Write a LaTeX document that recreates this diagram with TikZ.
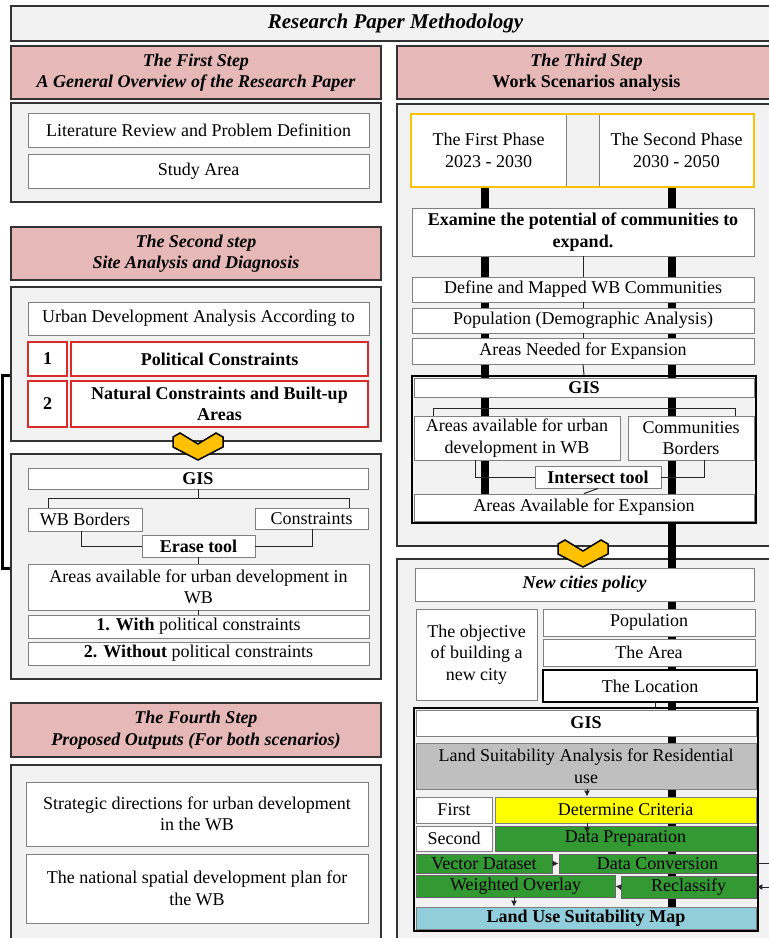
\documentclass[tikz,border=0pt]{standalone}
\usepackage{fontspec}
\setmainfont{Liberation Serif}
\usetikzlibrary{fit,arrows.meta}

\definecolor{panelgray}{HTML}{F2F2F2}
\definecolor{headpink}{HTML}{E6B8B7}
\definecolor{phaseyellow}{HTML}{FFC000}
\definecolor{crityellow}{HTML}{FFFF00}
\definecolor{prepgreen}{HTML}{339933}
\definecolor{mapblue}{HTML}{92CDDC}
\definecolor{lsgray}{HTML}{BFBFBF}
\definecolor{cellred}{HTML}{D92B2B}

\newcommand{\bodyfont}{\fontsize{18}{21.5}\selectfont}

\pgfdeclarelayer{back}
\pgfdeclarelayer{bars}
\pgfsetlayers{back,bars,main}

\tikzset{
	corners/.style n args={4}{at={({(#1+#3)/2},{(#2+#4)/2})}, minimum width={(#3-#1)*1pt}, minimum height={(#4-#2)*1pt}},
	stepbody/.style={draw=black!80, line width=1.5pt, fill=panelgray, inner sep=0pt},
	stephead/.style={draw=black!80, line width=1.5pt, fill=headpink, inner sep=0pt, align=center, font=\bodyfont\bfseries\itshape},
	cell/.style={draw=black!50, line width=0.8pt, fill=white, inner sep=0pt, align=center},
	boldcell/.style={cell, font=\bodyfont\bfseries},
	redcell/.style={cell, draw=cellred, line width=1.2pt, font=\bodyfont\bfseries},
	greencell/.style={cell, fill=prepgreen, draw=black!60},
	gisframe/.style={draw=black, line width=2.5pt, fill=panelgray, inner sep=0pt},
	link/.style={draw=black!85, line width=1pt},
	arr/.style={link, -{Latex[length=6pt,width=6pt]}},
	bar/.style={line width=8pt, black},
	bracket/.style={line width=3pt, black},
	chevron/.pic={
		\filldraw[fill=phaseyellow, draw=black, line width=1.5pt]
			(-25,4) -- (-18,0) -- (0,11) -- (18,0) -- (25,4) -- (25,14) -- (0,27) -- (-25,14) -- cycle;
	}
}

\begin{document}
\begin{tikzpicture}[x=1pt,y=-1pt,font=\bodyfont]
	\pgfmathsetmacro{\lbarx}{485}
	\pgfmathsetmacro{\rbarx}{672}
	\useasboundingbox (0,0) rectangle (769,938);

	% panels
	\begin{pgfonlayer}{back}
		\node (body1) [stepbody, corners={11}{103}{381}{202}] {};
		\node (body2) [stepbody, corners={11}{287}{381}{441}] {};
		\node (body3) [stepbody, corners={11}{454}{381}{679}] {};
		\node (body4) [stepbody, corners={11}{765}{381}{950}] {};
		\node (body5) [stepbody, corners={397}{104}{776}{546}] {};
		\node (body6) [stepbody, corners={397}{559}{776}{950}] {};
		\node (gisrframe) [gisframe, corners={412}{376}{756}{523}] {};
		\node (gis2frame) [gisframe, corners={414}{708}{758}{931}] {};
	\end{pgfonlayer}

	\node (title) [stepbody, corners={11}{6}{780}{41}, font=\fontsize{21}{24}\selectfont\bfseries\itshape] {Research Paper Methodology};
	\node (head1) [stephead, corners={11}{46}{381}{99}] {The First Step\\A General Overview of the Research Paper};
	\node (head2) [stephead, corners={11}{227}{381}{280}] {The Second step\\Site Analysis and Diagnosis};
	\node (head3) [stephead, corners={397}{46}{776}{99}] {The Third Step\\\upshape Work Scenarios analysis};
	\node (head4) [stephead, corners={11}{703}{381}{757}] {The Fourth Step\\Proposed Outputs (For both scenarios)};

	% first step
	\node (lit) [cell, corners={28}{113}{369}{147}] {Literature Review and Problem Definition};
	\node (study) [cell, corners={28}{154}{369}{188}] {Study Area};

	% second step
	\node (urban) [cell, corners={28}{302}{369}{335}] {Urban Development Analysis According to};
	\node (n1) [redcell, corners={28}{342}{67}{376}] {1};
	\node (pol) [redcell, corners={71}{342}{368}{376}] {Political Constraints};
	\node (n2) [redcell, corners={28}{381}{67}{427}] {2};
	\node (nat) [redcell, corners={71}{381}{368}{427}] {Natural Constraints and Built-up\\Areas};

	\node (gisl) [boldcell, corners={28}{468}{368}{489}] {GIS};
	\node (wbb) [cell, corners={28}{508}{142}{531}] {WB Borders};
	\node (cons) [cell, corners={255}{508}{368}{529}] {Constraints};
	\node (erase) [boldcell, corners={142}{535}{255}{557}] {Erase tool};
	\node (avl) [cell, corners={28}{564}{369}{610}] {Areas available for urban development in\\WB};
	\node (with) [cell, corners={28}{615}{369}{638}] {\textbf{1. With} political constraints};
	\node (without) [cell, corners={28}{642}{369}{665}] {\textbf{2. Without} political constraints};

	\draw[link] (gisl.south) -- ++(0,10);
	\draw[link] (wbb.north -| 48,0) -- ++(0,-9) -| (cons.north -| 349,0);
	\draw[link] (wbb.south -| 81,0) |- (erase.west);
	\draw[link] (cons.south -| 312,0) |- (erase.east);
	\draw[link] (erase.south) -- (avl.north);
	\draw[link] (avl.south) -- (with.north);

	\draw[bracket] (body2.west |- 0,375) -- ++(-8,0) |- (body3.west |- 0,568);
	\pic at (198,433) {chevron};

	% fourth step
	\node (strat) [cell, corners={26}{782}{368}{846}] {Strategic directions for urban development\\in the WB};
	\node (natl) [cell, corners={26}{854}{368}{923}] {The national spatial development plan for\\the WB};

	% third step
	\node (ph1) [cell, corners={411}{114}{566}{187}] {The First Phase\\2023 - 2030};
	\node (ph2) [cell, corners={599}{114}{754}{187}] {The Second Phase\\2030 - 2050};
	\node (phases) [draw=phaseyellow, line width=2pt, inner sep=0pt, fit=(ph1)(ph2)] {};

	\node (exam) [boldcell, corners={412}{208}{754}{256}] {Examine the potential of communities to\\expand.};
	\node (defn) [cell, corners={412}{277}{754}{302}] {Define and Mapped WB Communities};
	\node (popd) [cell, corners={412}{308}{754}{333}] {Population (Demographic Analysis)};
	\node (need) [cell, corners={412}{338}{754}{364}] {Areas Needed for Expansion};

	\node (gisr) [boldcell, corners={414}{378}{754}{397}] {GIS};
	\node (aud) [cell, corners={414}{416}{620}{460}] {Areas available for urban\\development in WB};
	\node (cb) [cell, corners={628}{416}{754}{460}] {Communities\\Borders};
	\node (inter) [boldcell, corners={535}{466}{661}{488}] {Intersect tool};
	\node (expand) [cell, corners={414}{494}{754}{521}] {Areas Available for Expansion};

	\draw[link] (exam.south) -- (defn.north);
	\draw[link] (defn.south) -- (popd.north);
	\draw[link] (popd.south) -- (need.north);
	\draw[link] (need.south) -- (gisrframe.north);
	\draw[link] (aud.north -| 433,0) -- ++(0,-7) -| (cb.north -| 735,0);
	\draw[link] (aud.south -| 475,0) |- (inter.west);
	\draw[link] (cb.south -| 704,0) |- (inter.east);
	\draw[link] (inter.south) -- (expand.north);

	\pic at (583,540) {chevron};

	% new cities
	\node (policy) [cell, corners={415}{568}{754}{601}, font=\bodyfont\bfseries\itshape] {New cities policy};
	\node (obj) [cell, corners={416}{609}{537}{700}] {The objective\\of building a\\new city};
	\node (popn) [cell, corners={543}{609}{755}{636}] {Population};
	\node (area) [cell, corners={543}{639}{755}{666}] {The Area};
	\node (loc) [cell, draw=black, line width=2.5pt, corners={543}{670}{757}{702}] {The Location};

	\node (gis2) [boldcell, corners={416}{710}{756}{736}] {GIS};
	\node (ls) [cell, fill=lsgray, corners={416}{743}{756}{789}] {Land Suitability Analysis for Residential\\use};
	\node (first) [cell, corners={416}{797}{492}{823}] {First};
	\node (crit) [cell, fill=crityellow, corners={495}{797}{756}{823}] {Determine Criteria};
	\node (second) [cell, corners={416}{826}{492}{851}] {Second};
	\node (prep) [greencell, corners={495}{826}{756}{851}] {Data Preparation};
	\node (vec) [greencell, corners={416}{854}{552}{873}] {Vector Dataset};
	\node (conv) [greencell, corners={559}{854}{756}{873}] {Data Conversion};
	\node (wov) [greencell, corners={416}{875}{615}{897}] {Weighted Overlay};
	\node (rec) [greencell, corners={621}{876}{756}{898}] {Reclassify};
	\node (map) [cell, fill=mapblue, font=\bodyfont\bfseries, corners={416}{907}{756}{929}] {Land Use Suitability Map};

	\draw[link] (loc.south -| 655,0) -- (gis2frame.north -| 655,0);
	\draw[arr] (ls.south -| 587,0) -- (crit.north -| 587,0);
	\draw[arr] (crit.south -| 587,0) -- ++(0,10);
	\draw[arr] (vec.east) -- (conv.west);
	\draw[arr] (conv.east) -- ++(24,0) |- (rec.east);
	\draw[arr] (rec.west) -- (wov.east);
	\draw[arr] (wov.south -| 514,0) -- (map.north -| 514,0);

	% main bars
	\begin{pgfonlayer}{bars}
		\draw[bar] (ph1.south -| \lbarx,0) -- (expand.north -| \lbarx,0);
		\draw[bar] (ph2.south -| \rbarx,0) -- (map.north -| \rbarx,0);
	\end{pgfonlayer}
\end{tikzpicture}
\end{document}
